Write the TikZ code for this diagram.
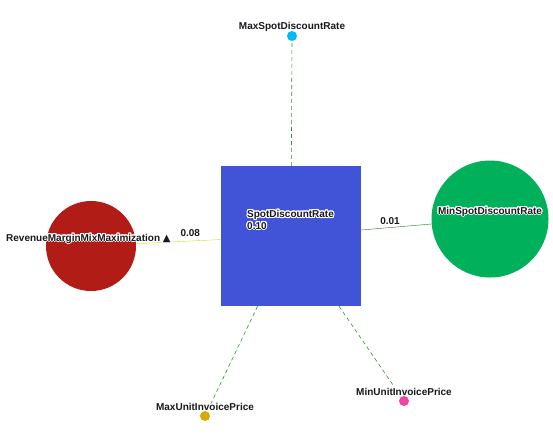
\documentclass[tikz,border=0pt]{standalone}
\usepackage{fontspec}
\setmainfont{Liberation Sans}
\newfontfamily\symfont{DejaVu Sans}
\usepackage[copies]{contour}
\contourlength{1pt}
\contournumber{16}
\usepackage{tikz}
\usetikzlibrary{positioning,calc}

\definecolor{sqblue}{RGB}{65,83,214}
\definecolor{revred}{RGB}{178,28,22}
\definecolor{mingreen}{RGB}{0,176,90}
\definecolor{skyblue}{RGB}{0,183,250}
\definecolor{gold}{RGB}{218,170,0}
\definecolor{pink}{RGB}{240,68,170}
\definecolor{limeedge}{RGB}{205,222,30}
\definecolor{darkedge}{RGB}{30,120,30}
\definecolor{dashgreen}{RGB}{50,145,50}
\definecolor{txt}{RGB}{25,25,30}

\newcommand{\halo}[1]{\contour{white}{#1}}

\begin{document}
\begin{tikzpicture}[x=1pt,y=-1pt,
    lbl/.style={inner sep=0pt,font=\bfseries\fontsize{10}{12}\selectfont,text=txt},
    ball/.style={circle,inner sep=0pt,minimum size=#1},
    dot/.style={circle,inner sep=0pt,minimum size=10pt,fill=#1},
    link/.style={dashgreen,dash pattern=on 4pt off 3pt,semithick}]
    \useasboundingbox (0,0) rectangle (553,445);
                \node[fill=sqblue,minimum size=140pt,inner sep=0pt] (spot) at (291,236) {};
                \node[ball=90pt,fill=revred] (rev) at (91,246) {};
                \node[ball=117pt,fill=mingreen] (minspot) at (490,219) {};
                \node[dot=skyblue] (maxspot) at (292,36) {};
                \node[dot=gold] (maxunit) at (205,416) {};
                \node[dot=pink] (minunit) at (404,401) {};
                \draw[limeedge] (spot) -- node[pos=0.36,above=3pt,lbl] {\halo{0.08}} (rev);
                \draw[darkedge] (spot) -- node[pos=0.41,above=2pt,lbl] {\halo{0.01}} (minspot);
                \draw[link] (spot) -- (maxspot);
                \draw[link] (spot) -- (maxunit);
                \draw[link] (spot) -- (minunit);
                \node[lbl,above=1.5pt of maxspot,anchor=base] (maxspottext) {\halo{MaxSpotDiscountRate}};
                \node[lbl,anchor=base west] (revtext) at (6,241) {\halo{RevenueMarginMixMaximization \symfont▲}};
                \node[lbl,anchor=base west] (spottext) at (247,217.3) {\halo{SpotDiscountRate}};
                \node[lbl,anchor=base west] (ratetext) at (247,229) {\halo{0.10}};
                \node[lbl,anchor=base] (minspottext) at (490,214) {\halo{MinSpotDiscountRate}};
                \node[lbl,above=0.5pt of maxunit,anchor=base] (maxunittext) {\halo{MaxUnitInvoicePrice}};
                \node[lbl,above=0.5pt of minunit,anchor=base] (minunittext) {\halo{MinUnitInvoicePrice}};
            \end{tikzpicture}
\end{document}
